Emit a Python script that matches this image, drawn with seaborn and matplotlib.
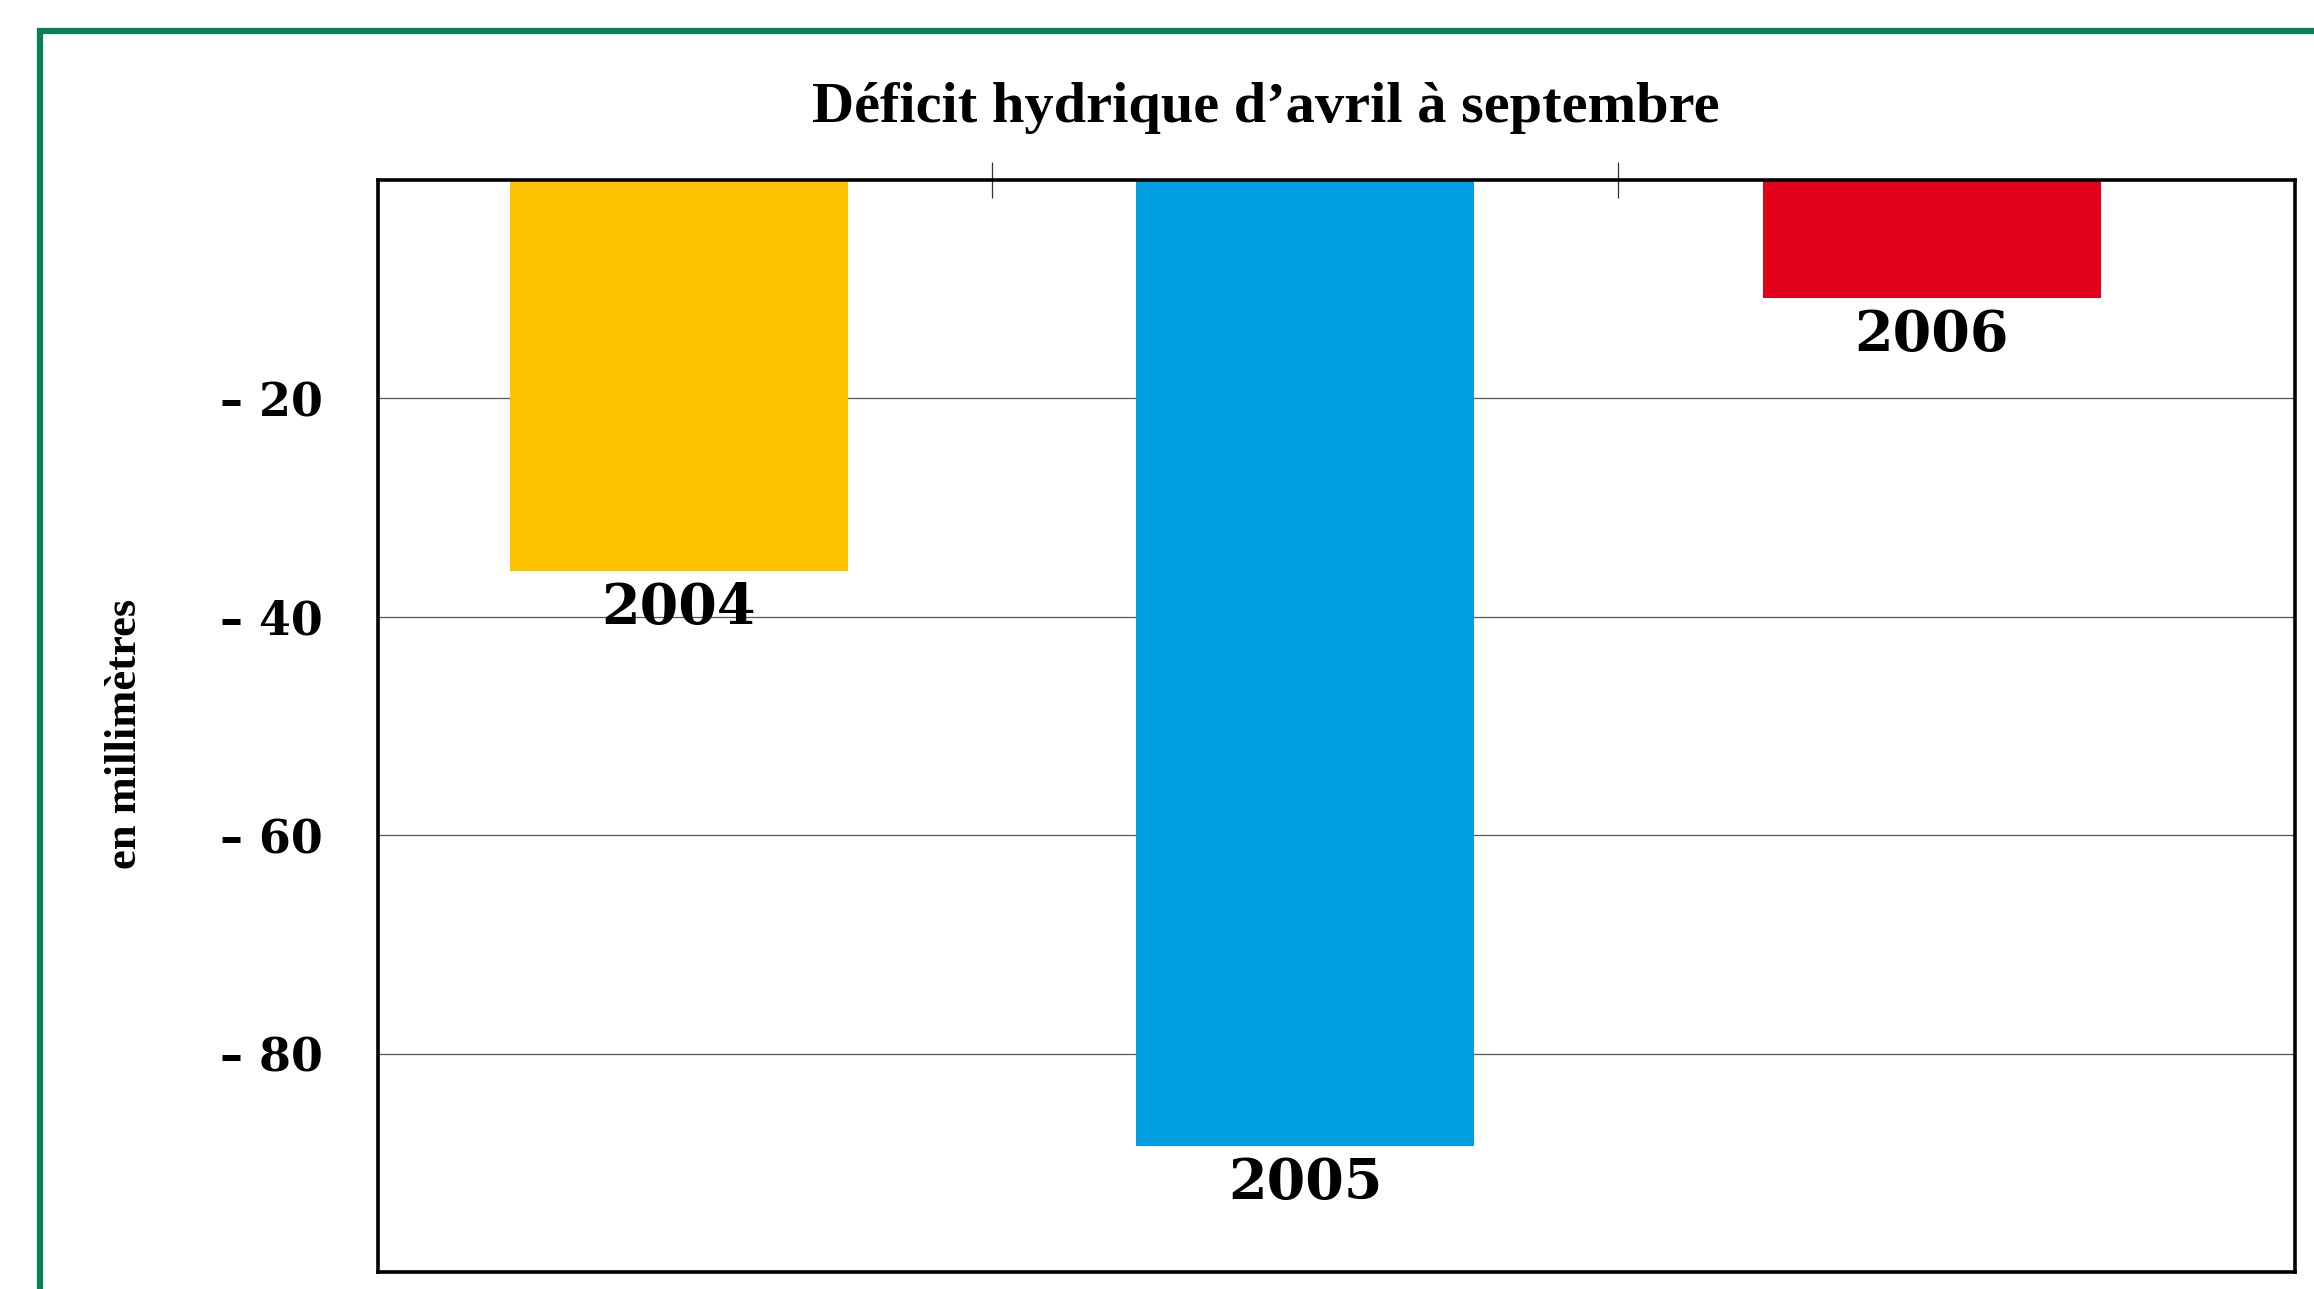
import pandas as pd
import matplotlib.pyplot as plt
import seaborn as sns
from matplotlib.patches import Rectangle

# Data
years = ["2004", "2005", "2006"]
deficit_mm = [-35.8, -88.5, -10.8]
bar_colors = ["#FCC300", "#009EE0", "#E2001A"]
y_ticks = [-20, -40, -60, -80]
y_tick_labels = ["\u2013 20", "\u2013 40", "\u2013 60", "\u2013 80"]

TITLE = "Déficit hydrique d\u2019avril à septembre"
YLABEL = "en millimètres"


def make_chart():
    sns.set_style("white")
    plt.rcParams["font.family"] = ["DejaVu Serif", "DejaVu Sans"]
    plt.rcParams["text.color"] = "black"
    plt.rcParams["ytick.labelcolor"] = "black"

    df = pd.DataFrame({"Année": years, "Déficit": deficit_mm})

    fig = plt.figure(figsize=(23.14, 12.89), dpi=100)
    ax = fig.add_axes([0.1634, 0.0132, 0.8284, 0.8472])

    # green frame around the whole figure (cut on right and bottom)
    fig.patches.append(Rectangle((0.0173, -0.2), 1.2, 1.176, transform=fig.transFigure,
                                 fill=False, edgecolor="#077F5B", linewidth=4.5))

    sns.barplot(data=df, x="Année", y="Déficit", hue="Année", palette=bar_colors,
                legend=False, width=0.54, linewidth=0, saturation=1, ax=ax)

    ax.set_axisbelow(True)
    ax.set_xlim(-0.48, 2.58)
    ax.set_ylim(-100, 0)

    # year labels under each bar
    for i, (yr, val) in enumerate(zip(years, deficit_mm)):
        ax.annotate(yr, (i, val), xytext=(0, -7), textcoords="offset points",
                    ha="center", va="top", fontsize=40, fontweight="bold",
                    family="DejaVu Serif", color="black")

    # y axis
    ax.set_yticks(y_ticks)
    ax.set_yticklabels(y_tick_labels, fontsize=33, fontweight="bold")
    ax.tick_params(axis="y", direction="out", length=28, width=0.9, color="#555555",
                   pad=12, labelcolor="black")
    ax.grid(axis="y", color="#555555", linewidth=0.9)
    ax.grid(axis="x", visible=False)

    # category separators on top
    ax.set_xticks([0.5, 1.5])
    ax.set_xticklabels([])
    ax.tick_params(axis="x", top=True, bottom=False, labelbottom=False, labeltop=False,
                   direction="inout", length=26, width=0.9, color="#333333")
    ax.set_xlabel("")
    ax.set_ylabel("")

    for sp in ax.spines.values():
        sp.set_visible(True)
        sp.set_color("black")
        sp.set_linewidth(2.6)

    ax.text(-0.132, 0.493, YLABEL, transform=ax.transAxes, rotation=90,
            ha="center", va="center", fontsize=32, fontweight="bold",
            family=["Liberation Serif", "DejaVu Serif"], color="black")

    fig.text(0.547, 0.916, TITLE, ha="center", va="center", fontsize=42,
             fontweight="bold", family=["Liberation Serif", "DejaVu Serif"],
             color="black")

    fig.savefig("out.png", dpi=100, facecolor="white")


if __name__ == "__main__":
    make_chart()
